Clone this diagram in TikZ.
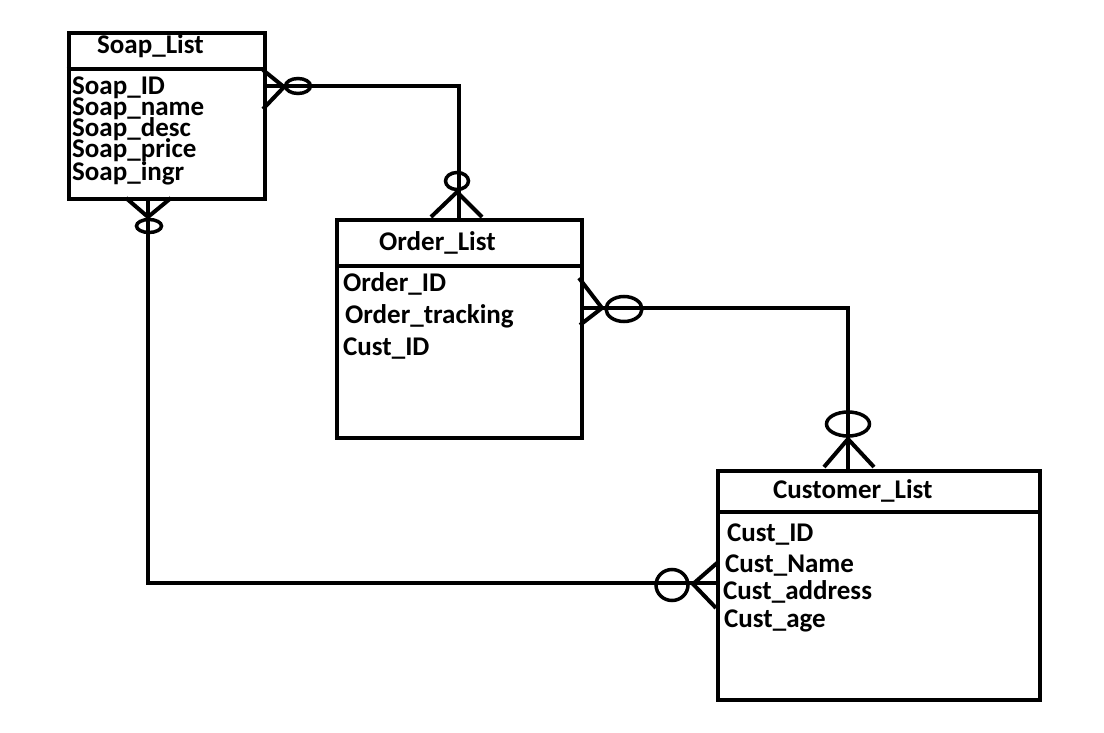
\documentclass[tikz,border=0pt]{standalone}
\usepackage{fontspec}
\setmainfont{Carlito}
\begin{document}
\begin{tikzpicture}[x=1pt,y=-1pt,
  ent/.style={draw, line width=4pt, inner sep=0, anchor=north west},
  conn/.style={line width=4pt},
  lbl/.style={anchor=base west, inner sep=0, font=\fontsize{27}{29}\selectfont\bfseries},
  tight/.style={lbl, text height=16pt, text depth=3pt},
  ring/.style={line width=3.5pt}]
\useasboundingbox[fill=white] (0,0) rectangle (1104,733);
% entities
\node[ent, minimum width=196.5pt, minimum height=166pt] (soap) at (66.5,31) {};
\node[ent, minimum width=244.5pt, minimum height=218pt] (order) at (335,218) {};
\node[ent, minimum width=322pt, minimum height=229pt] (cust) at (716,469) {};
\draw[conn] (soap.west |- 0,69) coordinate (sd1) -- (soap.east |- 0,69) coordinate (sd2);
\draw[conn] (order.west |- 0,266) coordinate (od1) -- (order.east |- 0,266) coordinate (od2);
\draw[conn] (cust.west |- 0,512) coordinate (cd1) -- (cust.east |- 0,512) coordinate (cd2);
% texts
\node[lbl] (t1) at (97,54) {Soap\_List};
\node[tight] (s1) at (72,95) {Soap\_ID};
\node[tight] (s2) at (72,116) {Soap\_name};
\node[tight] (s3) at (72,137) {Soap\_desc};
\node[tight] (s4) at (72,158) {Soap\_price};
\node[tight] (s5) at (72,181) {Soap\_ingr};
\node[lbl] (t2) at (379,251) {Order\_List};
\node[lbl] (o1) at (343,291) {Order\_ID};
\node[lbl] (o2) at (345,323) {Order\_tracking};
\node[lbl] (o3) at (343,355) {Cust\_ID};
\node[lbl] (t3) at (773,498) {Customer\_List};
\node[lbl] (c1) at (727,541) {Cust\_ID};
\node[tight] (c2) at (725,572) {Cust\_Name};
\node[tight] (c3) at (723,599) {Cust\_address};
\node[tight] (c4) at (724,627.5) {Cust\_age};
% connector 1: Soap_List -- Order_List
\draw[conn] (soap.east |- 0,86) -| (order.north);
\draw[conn] (263,70) -- (284,87) -- (263,109);
\draw[ring] (298,86) ellipse [x radius=12.5, y radius=7.5];
\draw[conn] (431,217) -- (457,192) -- (482,217);
\draw[ring] (457,181) ellipse [x radius=11.5, y radius=8.5];
% connector 2: Soap_List -- Customer_List
\draw[conn] (soap.south -| 148,0) |- (cust.west |- 0,583);
\draw[conn] (126,198) -- (148,217) -- (171,198);
\draw[ring] (149,226) ellipse [x radius=12.5, y radius=6.5];
\draw[conn] (717,563) -- (693,584) -- (716,608);
\draw[ring] (672,585) ellipse [x radius=16, y radius=15.5];
% connector 3: Order_List -- Customer_List
\draw[conn] (order.east |- 0,308) -| (cust.north -| 848,0);
\draw[conn] (579,278) -- (602,308) -- (580,325);
\draw[ring] (624,309) ellipse [x radius=18, y radius=12.5];
\draw[conn] (824,467) -- (848,439) -- (874,467);
\draw[ring] (848,424) ellipse [x radius=21.5, y radius=12];
\end{tikzpicture}
\end{document}
